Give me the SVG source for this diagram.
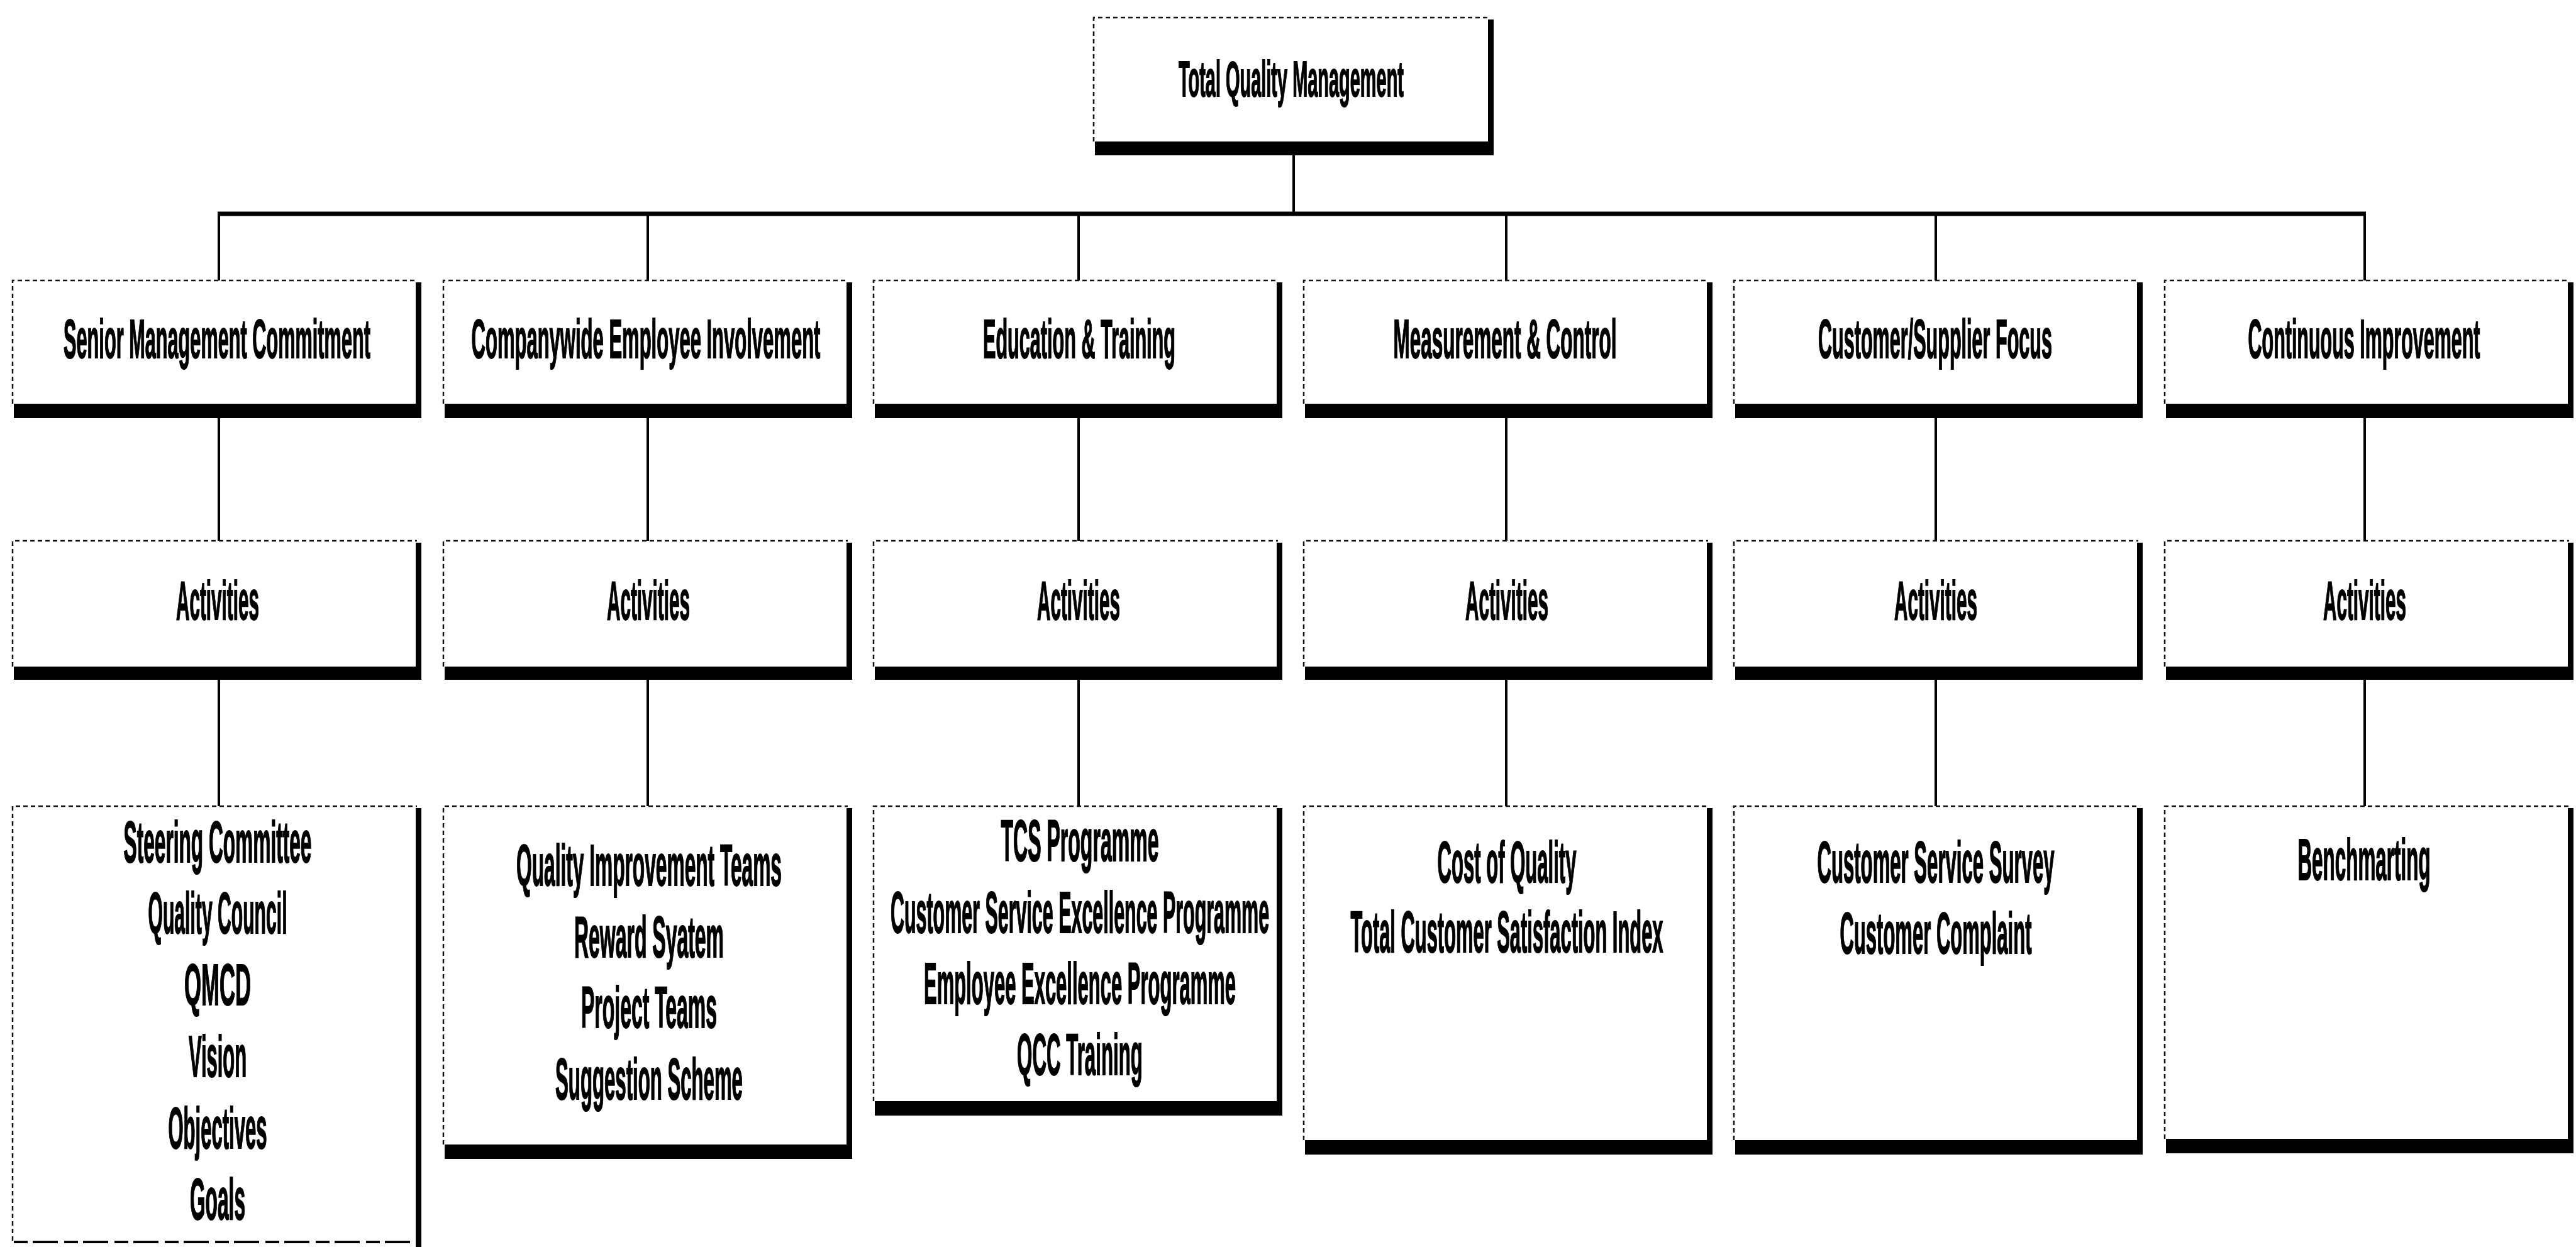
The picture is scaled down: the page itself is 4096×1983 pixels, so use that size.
<svg xmlns="http://www.w3.org/2000/svg" width="4096" height="1983" viewBox="0 0 4096 1983">
  <defs>
    <style>
      .bg { fill: #ffffff; }
      .face { fill: #ffffff; }
      .edge { fill: none; stroke: #111111; stroke-width: 2.5; stroke-dasharray: 7 5; }
      .shade { fill: #000000; }
      .wire { fill: none; stroke: #000000; stroke-width: 4; stroke-linecap: square; }
      .bar { fill: none; stroke: #000000; stroke-width: 7; }
      text { font-family: "Liberation Sans", Arial, sans-serif; font-weight: bold; fill: #000000; stroke: #000000; stroke-width: 2; text-anchor: middle; }
      .t0 { font-size: 80px; }
      .t1 { font-size: 88px; }
      .t2 { font-size: 88px; }
      .t3 { font-size: 93px; }
    </style>
  </defs>

  <rect class="bg" x="0" y="0" width="4096" height="1983"/>

  <!-- connectors -->
  <g id="connectors">
    <line class="wire" x1="2057" y1="247" x2="2057" y2="340"/>
    <line class="bar" x1="346" y1="340" x2="3762" y2="340"/>
    <!-- root bar to category boxes -->
    <line class="wire" x1="348" y1="340" x2="348" y2="446"/>
    <line class="wire" x1="1030" y1="340" x2="1030" y2="446"/>
    <line class="wire" x1="1715" y1="340" x2="1715" y2="446"/>
    <line class="wire" x1="2395" y1="340" x2="2395" y2="446"/>
    <line class="wire" x1="3078" y1="340" x2="3078" y2="446"/>
    <line class="wire" x1="3760" y1="340" x2="3760" y2="446"/>
    <!-- category to activities -->
    <line class="wire" x1="348" y1="665" x2="348" y2="860"/>
    <line class="wire" x1="1030" y1="665" x2="1030" y2="860"/>
    <line class="wire" x1="1715" y1="665" x2="1715" y2="860"/>
    <line class="wire" x1="2395" y1="665" x2="2395" y2="860"/>
    <line class="wire" x1="3078" y1="665" x2="3078" y2="860"/>
    <line class="wire" x1="3760" y1="665" x2="3760" y2="860"/>
    <!-- activities to detail lists -->
    <line class="wire" x1="348" y1="1081" x2="348" y2="1282"/>
    <line class="wire" x1="1030" y1="1081" x2="1030" y2="1282"/>
    <line class="wire" x1="1715" y1="1081" x2="1715" y2="1282"/>
    <line class="wire" x1="2395" y1="1081" x2="2395" y2="1282"/>
    <line class="wire" x1="3078" y1="1081" x2="3078" y2="1282"/>
    <line class="wire" x1="3760" y1="1081" x2="3760" y2="1282"/>
  </g>

  <!-- root -->
  <g id="tqm">
    <rect class="face" x="1739" y="28" width="629" height="197"/>
    <rect class="shade" x="2366" y="31" width="9" height="216"/>
    <rect class="shade" x="1741" y="225" width="634" height="22"/>
    <path class="edge" d="M1739 225 V28 H2368"/>
    <text class="t0" transform="translate(2053 153) scale(0.34 1)" textLength="1053" lengthAdjust="spacingAndGlyphs">Total Quality Management</text>
  </g>

  <!-- category row -->
  <g id="smc">
    <rect class="face" x="20" y="446" width="643" height="196"/>
    <rect class="shade" x="661" y="449" width="9" height="216"/>
    <rect class="shade" x="22" y="642" width="648" height="23"/>
    <path class="edge" d="M20 642 V446 H663"/>
    <text class="t1" transform="translate(345 569) scale(0.34 1)" textLength="1435" lengthAdjust="spacingAndGlyphs">Senior Management Commitment</text>
  </g>
  <g id="cei">
    <rect class="face" x="705" y="446" width="643" height="196"/>
    <rect class="shade" x="1346" y="449" width="9" height="216"/>
    <rect class="shade" x="707" y="642" width="648" height="23"/>
    <path class="edge" d="M705 642 V446 H1348"/>
    <text class="t1" transform="translate(1027 569) scale(0.34 1)" textLength="1632" lengthAdjust="spacingAndGlyphs">Companywide Employee Involvement</text>
  </g>
  <g id="edu">
    <rect class="face" x="1389" y="446" width="643" height="196"/>
    <rect class="shade" x="2030" y="449" width="9" height="216"/>
    <rect class="shade" x="1391" y="642" width="648" height="23"/>
    <path class="edge" d="M1389 642 V446 H2032"/>
    <text class="t1" transform="translate(1716 569) scale(0.34 1)" textLength="900" lengthAdjust="spacingAndGlyphs">Education &amp; Training</text>
  </g>
  <g id="mc">
    <rect class="face" x="2073" y="446" width="643" height="196"/>
    <rect class="shade" x="2714" y="449" width="9" height="216"/>
    <rect class="shade" x="2075" y="642" width="648" height="23"/>
    <path class="edge" d="M2073 642 V446 H2716"/>
    <text class="t1" transform="translate(2393 569) scale(0.34 1)" textLength="1044" lengthAdjust="spacingAndGlyphs">Measurement &amp; Control</text>
  </g>
  <g id="csf">
    <rect class="face" x="2757" y="446" width="643" height="196"/>
    <rect class="shade" x="3398" y="449" width="9" height="216"/>
    <rect class="shade" x="2759" y="642" width="648" height="23"/>
    <path class="edge" d="M2757 642 V446 H3400"/>
    <text class="t1" transform="translate(3077 569) scale(0.34 1)" textLength="1094" lengthAdjust="spacingAndGlyphs">Customer/Supplier Focus</text>
  </g>
  <g id="ci">
    <rect class="face" x="3442" y="446" width="643" height="196"/>
    <rect class="shade" x="4083" y="449" width="9" height="216"/>
    <rect class="shade" x="3444" y="642" width="648" height="23"/>
    <path class="edge" d="M3442 642 V446 H4085"/>
    <text class="t1" transform="translate(3759 569) scale(0.34 1)" textLength="1085" lengthAdjust="spacingAndGlyphs">Continuous Improvement</text>
  </g>

  <!-- activities row -->
  <g id="act-smc">
    <rect class="face" x="20" y="860" width="643" height="200"/>
    <rect class="shade" x="661" y="863" width="9" height="218"/>
    <rect class="shade" x="22" y="1060" width="648" height="21"/>
    <path class="edge" d="M20 1060 V860 H663"/>
    <text class="t2" transform="translate(346 985) scale(0.34 1)" textLength="388" lengthAdjust="spacingAndGlyphs">Activities</text>
  </g>
  <g id="act-cei">
    <rect class="face" x="705" y="860" width="643" height="200"/>
    <rect class="shade" x="1346" y="863" width="9" height="218"/>
    <rect class="shade" x="707" y="1060" width="648" height="21"/>
    <path class="edge" d="M705 1060 V860 H1348"/>
    <text class="t2" transform="translate(1031 985) scale(0.34 1)" textLength="388" lengthAdjust="spacingAndGlyphs">Activities</text>
  </g>
  <g id="act-edu">
    <rect class="face" x="1389" y="860" width="643" height="200"/>
    <rect class="shade" x="2030" y="863" width="9" height="218"/>
    <rect class="shade" x="1391" y="1060" width="648" height="21"/>
    <path class="edge" d="M1389 1060 V860 H2032"/>
    <text class="t2" transform="translate(1715 985) scale(0.34 1)" textLength="388" lengthAdjust="spacingAndGlyphs">Activities</text>
  </g>
  <g id="act-mc">
    <rect class="face" x="2073" y="860" width="643" height="200"/>
    <rect class="shade" x="2714" y="863" width="9" height="218"/>
    <rect class="shade" x="2075" y="1060" width="648" height="21"/>
    <path class="edge" d="M2073 1060 V860 H2716"/>
    <text class="t2" transform="translate(2396 985) scale(0.34 1)" textLength="388" lengthAdjust="spacingAndGlyphs">Activities</text>
  </g>
  <g id="act-csf">
    <rect class="face" x="2757" y="860" width="643" height="200"/>
    <rect class="shade" x="3398" y="863" width="9" height="218"/>
    <rect class="shade" x="2759" y="1060" width="648" height="21"/>
    <path class="edge" d="M2757 1060 V860 H3400"/>
    <text class="t2" transform="translate(3078 985) scale(0.34 1)" textLength="388" lengthAdjust="spacingAndGlyphs">Activities</text>
  </g>
  <g id="act-ci">
    <rect class="face" x="3442" y="860" width="643" height="200"/>
    <rect class="shade" x="4083" y="863" width="9" height="218"/>
    <rect class="shade" x="3444" y="1060" width="648" height="21"/>
    <path class="edge" d="M3442 1060 V860 H4085"/>
    <text class="t2" transform="translate(3760 985) scale(0.34 1)" textLength="388" lengthAdjust="spacingAndGlyphs">Activities</text>
  </g>

  <!-- detail lists -->
  <g id="list-smc">
    <rect class="face" x="20" y="1282" width="643" height="691"/>
    <rect class="shade" x="661" y="1285" width="9" height="698"/>
    <path class="edge" d="M20 1973 V1282 H663"/>
    <line x1="22" y1="1975" x2="670" y2="1975" stroke="#000" stroke-width="4" stroke-dasharray="22 8 40 10"/>
    <text class="t3" transform="translate(346 1371) scale(0.34 1)" textLength="879" lengthAdjust="spacingAndGlyphs">Steering Committee</text>
    <text class="t3" transform="translate(346 1484) scale(0.34 1)" textLength="650" lengthAdjust="spacingAndGlyphs">Quality Council</text>
    <text class="t3" transform="translate(346 1598) scale(0.34 1)" textLength="312" lengthAdjust="spacingAndGlyphs">QMCD</text>
    <text class="t3" transform="translate(346 1712) scale(0.34 1)" textLength="271" lengthAdjust="spacingAndGlyphs">Vision</text>
    <text class="t3" transform="translate(346 1826) scale(0.34 1)" textLength="462" lengthAdjust="spacingAndGlyphs">Objectives</text>
    <text class="t3" transform="translate(346 1939) scale(0.34 1)" textLength="259" lengthAdjust="spacingAndGlyphs">Goals</text>
  </g>
  <g id="list-cei">
    <rect class="face" x="705" y="1282" width="643" height="538"/>
    <rect class="shade" x="1346" y="1285" width="9" height="558"/>
    <rect class="shade" x="707" y="1820" width="648" height="23"/>
    <path class="edge" d="M705 1820 V1282 H1348"/>
    <text class="t3" transform="translate(1032 1408) scale(0.34 1)" textLength="1241" lengthAdjust="spacingAndGlyphs">Quality Improvement Teams</text>
    <text class="t3" transform="translate(1032 1522) scale(0.34 1)" textLength="700" lengthAdjust="spacingAndGlyphs">Reward Syatem</text>
    <text class="t3" transform="translate(1032 1634) scale(0.34 1)" textLength="635" lengthAdjust="spacingAndGlyphs">Project Teams</text>
    <text class="t3" transform="translate(1032 1748) scale(0.34 1)" textLength="876" lengthAdjust="spacingAndGlyphs">Suggestion Scheme</text>
  </g>
  <g id="list-edu">
    <rect class="face" x="1389" y="1282" width="643" height="469"/>
    <rect class="shade" x="2030" y="1285" width="9" height="489"/>
    <rect class="shade" x="1391" y="1751" width="648" height="23"/>
    <path class="edge" d="M1389 1751 V1282 H2032"/>
    <text class="t3" transform="translate(1717 1369) scale(0.34 1)" textLength="738" lengthAdjust="spacingAndGlyphs">TCS Programme</text>
    <text class="t3" transform="translate(1717 1483) scale(0.34 1)" textLength="1771" lengthAdjust="spacingAndGlyphs">Customer Service Excellence Programme</text>
    <text class="t3" transform="translate(1717 1596) scale(0.34 1)" textLength="1459" lengthAdjust="spacingAndGlyphs">Employee Excellence Programme</text>
    <text class="t3" transform="translate(1717 1709) scale(0.34 1)" textLength="588" lengthAdjust="spacingAndGlyphs">QCC Training</text>
  </g>
  <g id="list-mc">
    <rect class="face" x="2073" y="1282" width="643" height="531"/>
    <rect class="shade" x="2714" y="1285" width="9" height="551"/>
    <rect class="shade" x="2075" y="1813" width="648" height="23"/>
    <path class="edge" d="M2073 1813 V1282 H2716"/>
    <text class="t3" transform="translate(2396 1403) scale(0.34 1)" textLength="650" lengthAdjust="spacingAndGlyphs">Cost of Quality</text>
    <text class="t3" transform="translate(2396 1514) scale(0.34 1)" textLength="1462" lengthAdjust="spacingAndGlyphs">Total Customer Satisfaction Index</text>
  </g>
  <g id="list-csf">
    <rect class="face" x="2757" y="1282" width="643" height="531"/>
    <rect class="shade" x="3398" y="1285" width="9" height="551"/>
    <rect class="shade" x="2759" y="1813" width="648" height="23"/>
    <path class="edge" d="M2757 1813 V1282 H3400"/>
    <text class="t3" transform="translate(3078 1403) scale(0.34 1)" textLength="1109" lengthAdjust="spacingAndGlyphs">Customer Service Survey</text>
    <text class="t3" transform="translate(3078 1516) scale(0.34 1)" textLength="897" lengthAdjust="spacingAndGlyphs">Customer Complaint</text>
  </g>
  <g id="list-ci">
    <rect class="face" x="3442" y="1282" width="643" height="529"/>
    <rect class="shade" x="4083" y="1285" width="9" height="549"/>
    <rect class="shade" x="3444" y="1811" width="648" height="23"/>
    <path class="edge" d="M3442 1811 V1282 H4085"/>
    <text class="t3" transform="translate(3759 1399) scale(0.34 1)" textLength="621" lengthAdjust="spacingAndGlyphs">Benchmarting</text>
  </g>
</svg>
